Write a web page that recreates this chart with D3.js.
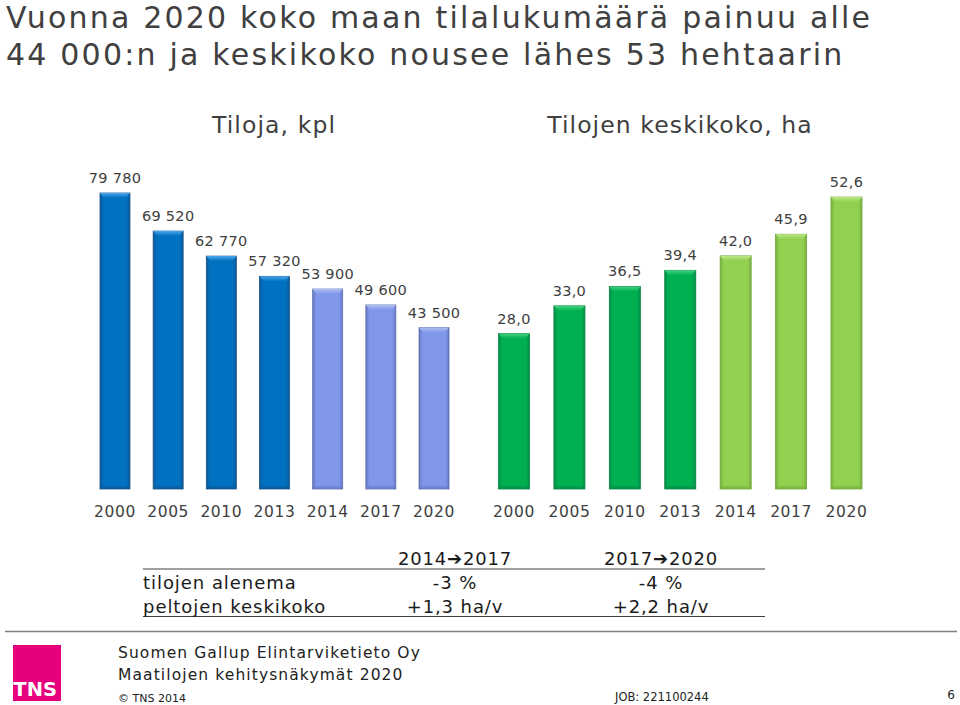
<!DOCTYPE html>
<html>
<head>
<meta charset="utf-8">
<script src="https://cdn.jsdelivr.net/npm/d3@7"></script>
<style>
  html, body { margin: 0; padding: 0; background: #ffffff; }
  svg { display: block; }
  text { font-family: "DejaVu Sans", Verdana, sans-serif; }
</style>
</head>
<body>
<svg id="chart" width="960" height="705"></svg>
<script>
// ---------------- data ----------------
const titleLines = ["Vuonna 2020 koko maan tilalukumäärä painuu alle", "44 000:n ja keskikoko nousee lähes 53 hehtaarin"];
const leftSubtitle = "Tiloja, kpl";
const rightSubtitle = "Tilojen keskikoko, ha";
const years = ["2000", "2005", "2010", "2013", "2014", "2017", "2020"];
const farmCounts = [79780, 69520, 62770, 57320, 53900, 49600, 43500];
const avgSizes = [28.0, 33.0, 36.5, 39.4, 42.0, 45.9, 52.6];
const isForecast = [false, false, false, false, true, true, true];
const tableHeaders = ["2014\u27942017", "2017\u27942020"];
const tableRows = ["tilojen alenema", "peltojen keskikoko"];
const tableCol1 = ["-3 %", "+1,3 ha/v"];
const tableCol2 = ["-4 %", "+2,2 ha/v"];
const footerLines = ["Suomen Gallup Elintarviketieto Oy", "Maatilojen kehitysnäkymät 2020"];

// ---------------- setup ----------------
const svg = d3.select("#chart");
const textColor = "#404040";
const fi = d3.formatLocale({decimal: ",", thousands: " ", grouping: [3], currency: ["", " €"]});
const fmtInt = fi.format(",d");
const fmtDec = fi.format(".1f");

const defs = svg.append("defs");
function makeGrad(id, dark, mid, light) {
  const g = defs.append("linearGradient").attr("id", id).attr("x1", 0).attr("x2", 1).attr("y1", 0).attr("y2", 0);
  g.append("stop").attr("offset", 0).attr("stop-color", dark);
  g.append("stop").attr("offset", 0.12).attr("stop-color", mid);
  g.append("stop").attr("offset", 0.88).attr("stop-color", mid);
  g.append("stop").attr("offset", 1).attr("stop-color", dark);
  const t = defs.append("linearGradient").attr("id", id + "-top").attr("x1", 0).attr("x2", 0).attr("y1", 0).attr("y2", 1);
  t.append("stop").attr("offset", 0).attr("stop-color", light);
  t.append("stop").attr("offset", 1).attr("stop-color", mid);
}
const palettes = {
  blue:   {dark: "#0B5A9A", mid: "#0070C0", light: "#4AA6EA", stroke: "#1B4F80"},
  violet: {dark: "#6579C8", mid: "#8096E8", light: "#AFBEF4", stroke: "#5D6DA8"},
  green:  {dark: "#00904A", mid: "#00B050", light: "#45D383", stroke: "#0A8040"},
  lime:   {dark: "#76B23E", mid: "#92D050", light: "#BDE888", stroke: "#6FA53C"}
};
Object.entries(palettes).forEach(([k, p]) => makeGrad("g-" + k, p.dark, p.mid, p.light));

// ---------------- title ----------------
svg.append("g").selectAll("text").data(titleLines).join("text")
  .attr("x", 6).attr("y", (d, i) => 28 + i * 37)
  .attr("font-size", 30).attr("letter-spacing", 2.2).attr("fill", textColor).text(d => d);

// ---------------- panels ----------------
const baseline = 489;
const xLeft = d3.scaleBand().domain(years).range([88.4, 460.6]).paddingInner(0.436).paddingOuter(0.218);
const yLeft = d3.scaleLinear().domain([0, 80000]).range([baseline, baseline - 296.8]);
const xRight = d3.scaleBand().domain(years).range([486.3, 874.2]).paddingInner(0.44).paddingOuter(0.22);
const yRight = d3.scaleLinear().domain([0, 60]).range([baseline, baseline - 333]);

function drawPanel(x, y, values, fmt, colNormal, colForecast, subtitle, subX) {
  const g = svg.append("g");
  g.append("text").attr("x", subX).attr("y", 133).attr("text-anchor", "middle")
    .attr("font-size", 23.5).attr("letter-spacing", 1.1).attr("fill", textColor).text(subtitle);

  const data = years.map((yr, i) => ({yr, v: values[i], f: isForecast[i]}));
  const bars = g.selectAll("g.bar").data(data).join("g").attr("class", "bar");
  bars.append("rect")
    .attr("x", d => x(d.yr)).attr("width", x.bandwidth())
    .attr("y", d => y(d.v)).attr("height", d => baseline - y(d.v))
    .attr("fill", d => "url(#g-" + (d.f ? colForecast : colNormal) + ")")
    .attr("stroke", d => palettes[d.f ? colForecast : colNormal].stroke)
    .attr("stroke-width", 0.8);
  // top bevel
  bars.append("path")
    .attr("d", d => {
      const x0 = x(d.yr), x1 = x0 + x.bandwidth(), t = y(d.v);
      return `M${x0},${t}L${x1},${t}L${x1 - 4},${t + 5}L${x0 + 4},${t + 5}Z`;
    })
    .attr("fill", d => "url(#g-" + (d.f ? colForecast : colNormal) + "-top)");
  // bottom shade
  bars.append("rect")
    .attr("x", d => x(d.yr) + 0.5).attr("width", x.bandwidth() - 1)
    .attr("y", baseline - 3).attr("height", 3)
    .attr("fill", d => palettes[d.f ? colForecast : colNormal].dark).attr("opacity", 0.6);

  // value labels
  g.selectAll("text.val").data(data).join("text").attr("class", "val")
    .attr("x", d => x(d.yr) + x.bandwidth() / 2).attr("y", d => y(d.v) - 10)
    .attr("text-anchor", "middle").attr("font-size", 14.5).attr("letter-spacing", 0.3)
    .attr("fill", textColor).text(d => fmt(d.v));

  // category axis
  const axis = d3.axisBottom(x).tickSize(0).tickPadding(0);
  const ag = g.append("g").attr("transform", `translate(0,${baseline})`).call(axis);
  ag.select(".domain").remove();
  ag.selectAll("text").attr("font-size", 15.5).attr("fill", textColor).attr("letter-spacing", 0.6)
    .attr("font-family", "DejaVu Sans, Verdana, sans-serif").attr("dy", 0).attr("y", 28);
}

drawPanel(xLeft, yLeft, farmCounts, fmtInt, "blue", "violet", leftSubtitle, 274);
drawPanel(xRight, yRight, avgSizes, fmtDec, "green", "lime", rightSubtitle, 680);

// ---------------- table ----------------
const tg = svg.append("g");
const colX = [455, 661];
tg.selectAll("text.hdr").data(tableHeaders).join("text").attr("class", "hdr")
  .attr("x", (d, i) => colX[i]).attr("y", 565).attr("text-anchor", "middle")
  .attr("font-size", 18).attr("letter-spacing", 0.8).attr("fill", "#1a1a1a").text(d => d);
tg.append("line").attr("x1", 143).attr("x2", 765).attr("y1", 569).attr("y2", 569)
  .attr("stroke", "#404040").attr("stroke-width", 1);
tg.append("line").attr("x1", 143).attr("x2", 765).attr("y1", 616.5).attr("y2", 616.5)
  .attr("stroke", "#404040").attr("stroke-width", 1);
tableRows.forEach((r, i) => {
  const yy = 589 + i * 24;
  tg.append("text").attr("x", 143).attr("y", yy).attr("font-size", 18).attr("letter-spacing", 0.95)
    .attr("fill", "#1a1a1a").text(r);
  tg.append("text").attr("x", colX[0]).attr("y", yy).attr("text-anchor", "middle")
    .attr("font-size", 18).attr("letter-spacing", 0.9).attr("fill", "#1a1a1a").text(tableCol1[i]);
  tg.append("text").attr("x", colX[1]).attr("y", yy).attr("text-anchor", "middle")
    .attr("font-size", 18).attr("letter-spacing", 0.9).attr("fill", "#1a1a1a").text(tableCol2[i]);
});

// ---------------- footer ----------------
svg.append("line").attr("x1", 5).attr("x2", 957).attr("y1", 631.5).attr("y2", 631.5)
  .attr("stroke", "#7f7f7f").attr("stroke-width", 1.5);
svg.append("rect").attr("x", 13).attr("y", 645).attr("width", 48).attr("height", 56).attr("fill", "#E6007E");
svg.append("text").attr("x", 57).attr("y", 696).attr("text-anchor", "end")
  .attr("font-family", "Liberation Sans, Arial, sans-serif").attr("font-weight", "bold")
  .attr("font-size", 19.5).attr("fill", "#fff").text("TNS");
svg.append("g").selectAll("text").data(footerLines).join("text")
  .attr("x", 118).attr("y", (d, i) => 658 + i * 22)
  .attr("font-size", 15.5).attr("letter-spacing", 1.1).attr("fill", "#222").text(d => d);
svg.append("text").attr("x", 118).attr("y", 702).attr("font-size", 11)
  .attr("fill", "#222").text("\u00a9 TNS 2014");
svg.append("text").attr("x", 615).attr("y", 701).attr("font-size", 11.5)
  .attr("fill", "#222").text("JOB: 221100244");
svg.append("text").attr("x", 955).attr("y", 699).attr("text-anchor", "end").attr("font-size", 12)
  .attr("fill", "#222").text("6");
</script>
</body>
</html>
